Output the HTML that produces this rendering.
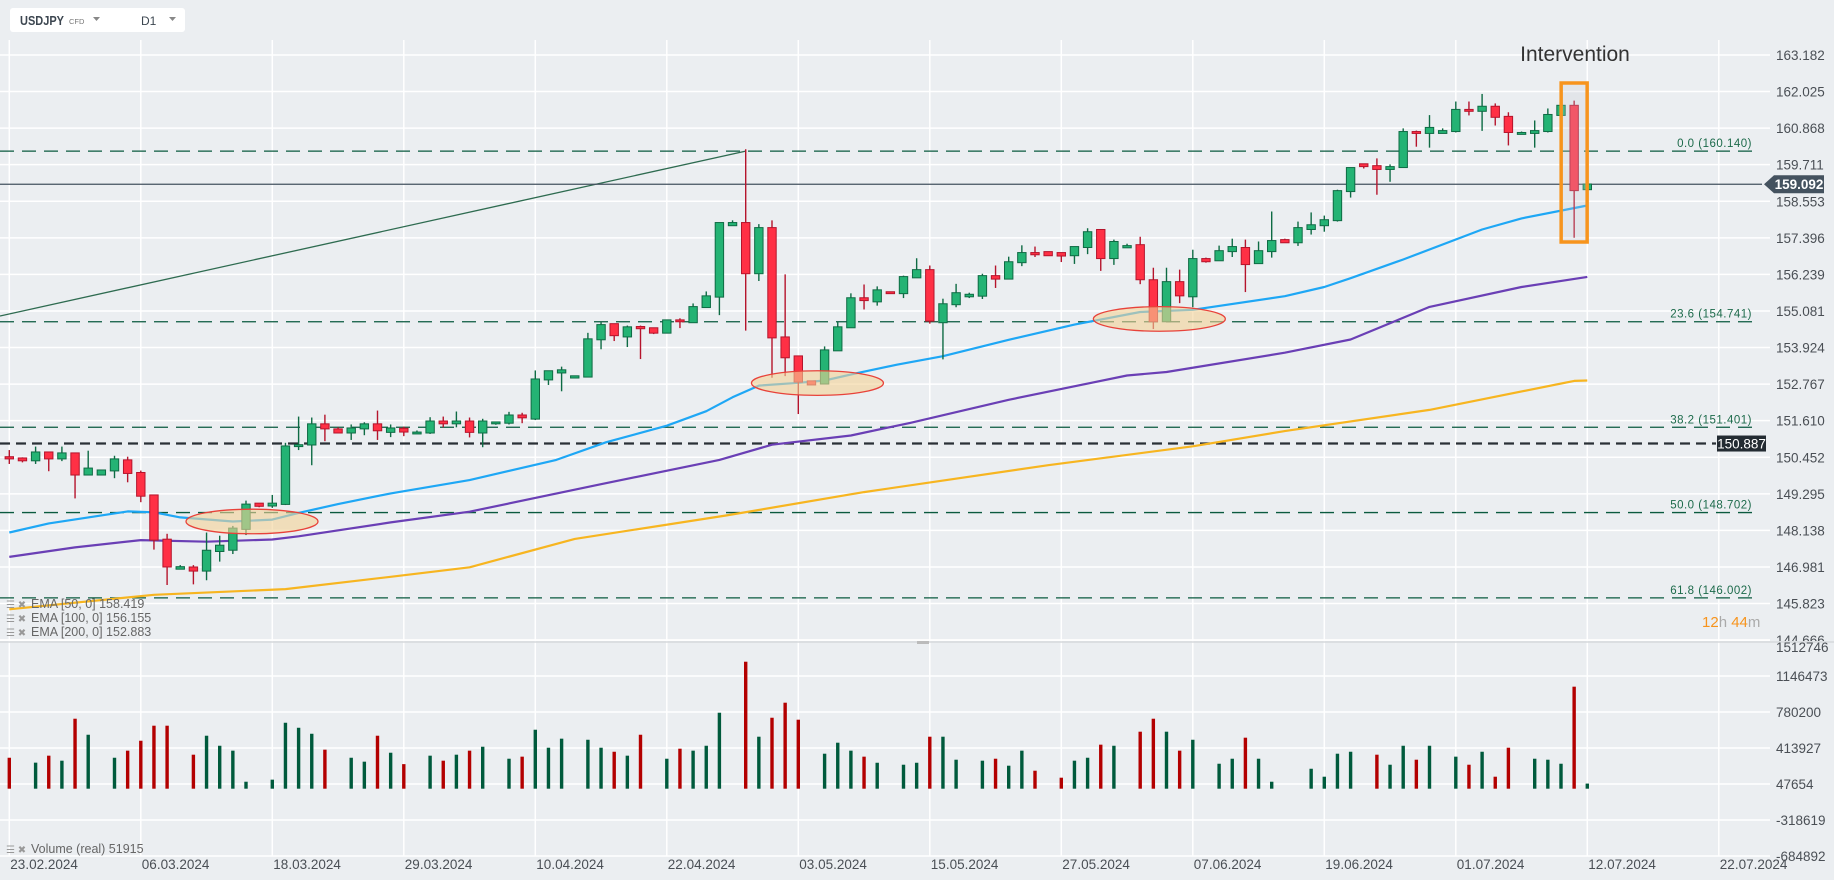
<!DOCTYPE html>
<html><head><meta charset="utf-8"><style>
html,body{margin:0;padding:0;background:#ebeef1;width:1834px;height:880px;overflow:hidden}
svg{display:block;font-family:"Liberation Sans",sans-serif}
</style></head><body>
<svg id="chart" width="1834" height="880" viewBox="0 0 1834 880" xmlns="http://www.w3.org/2000/svg">
<defs><clipPath id="pclip"><rect x="0" y="0" width="1834" height="641"/></clipPath></defs>
<rect x="0" y="0" width="1834" height="880" fill="#ebeef1"/>
<g id="grid"></g>
<g id="fibs"></g>
<g id="emas"></g>
<g id="ellipses"></g>
<g id="candles"></g>
<g id="vols"></g>
<g id="axes"></g>
<g>
<rect x="10" y="8" width="175" height="24" rx="3" fill="#ffffff"/>
<text x="20" y="25" font-size="13" font-weight="bold" fill="#3c4650" textLength="44" lengthAdjust="spacingAndGlyphs">USDJPY</text>
<text x="69" y="24" font-size="7.5" fill="#777">CFD</text>
<path d="M93 17 L100 17 L96.5 21 Z" fill="#888"/>
<text x="141" y="25" font-size="12" fill="#3c4650">D1</text>
<path d="M169 17 L176 17 L172.5 21 Z" fill="#888"/>
</g>
<text x="1575" y="61" font-size="21" fill="#333" text-anchor="middle">Intervention</text>
<text x="1702" y="627" font-size="15"><tspan fill="#f7941d">12</tspan><tspan fill="#aaa">h </tspan><tspan fill="#f7941d">44</tspan><tspan fill="#aaa">m</tspan></text>
<g font-size="12.5" fill="#666">
<text x="6" y="608" font-size="10" fill="#999">☰ ✖</text>
<text x="31" y="608">EMA  [50,  0]  158.419</text>
<text x="6" y="622" font-size="10" fill="#999">☰ ✖</text>
<text x="31" y="622">EMA  [100,  0]  156.155</text>
<text x="6" y="636" font-size="10" fill="#999">☰ ✖</text>
<text x="31" y="636">EMA  [200,  0]  152.883</text>
<text x="6" y="853" font-size="10" fill="#999">☰ ✖</text>
<text x="31" y="853">Volume  (real)  51915</text>
</g>
</svg>
<script>
const priceTicks=[163.182,162.025,160.868,159.711,158.553,157.396,156.239,155.081,153.924,152.767,151.610,150.452,149.295,148.138,146.981,145.823,144.666];
const volTicks=[1512746,1146473,780200,413927,47654,-318619,-684892];
const dateLabels=["23.02.2024","06.03.2024","18.03.2024","29.03.2024","10.04.2024","22.04.2024","03.05.2024","15.05.2024","27.05.2024","07.06.2024","19.06.2024","01.07.2024","12.07.2024","22.07.2024"];
const dateSlots=[0,10,20,30,40,50,60,70,80,90,100,110,120,130];
const opens=[150.47,150.43,150.34,150.62,150.40,150.59,149.89,149.89,150.02,150.37,149.97,149.26,147.86,146.91,146.98,146.85,147.47,147.51,148.17,149.00,148.91,148.96,150.79,150.84,151.51,151.35,151.22,151.35,151.51,151.24,151.37,151.19,151.22,151.60,151.51,
151.60,151.22,151.51,151.53,151.79,151.66,152.90,153.12,152.96,152.99,154.17,154.68,154.26,154.59,154.55,154.38,154.80,154.71,155.19,155.52,157.78,157.88,156.26,157.72,154.26,153.66,152.87,152.77,153.82,154.55,155.50,155.37,155.69,
155.63,156.13,156.39,154.71,155.28,155.53,155.55,156.20,156.09,156.61,156.93,156.96,156.93,156.83,157.09,157.66,156.74,157.08,157.18,156.07,154.74,156.01,155.53,156.74,156.67,156.96,157.09,156.58,156.96,157.34,157.24,157.66,157.78,157.94,
158.86,159.74,159.68,159.56,159.62,160.76,160.70,160.70,160.76,161.46,161.40,161.56,161.24,160.67,160.70,160.76,161.27,161.59,158.92];
const highs=[150.68,150.45,150.79,150.62,150.79,150.59,150.66,150.05,150.50,150.47,150.03,149.26,148.03,147.04,147.04,148.07,147.97,148.28,149.08,149.00,149.26,150.91,151.74,151.71,151.80,151.40,151.49,151.56,151.93,151.49,151.42,151.30,151.72,151.74,151.90,
151.71,151.67,151.57,151.89,151.86,153.20,153.19,153.32,153.03,154.39,154.73,154.68,154.62,154.62,154.55,154.80,154.85,155.32,155.70,157.88,157.95,160.20,157.83,157.95,156.24,153.66,152.87,153.96,154.73,155.64,155.92,155.86,155.69,
156.20,156.75,156.52,155.47,155.94,155.66,156.26,156.52,156.80,157.16,157.12,156.96,156.93,157.12,157.70,157.66,157.34,157.21,157.43,156.45,156.45,156.39,157.02,156.77,157.15,157.37,157.34,157.28,158.23,157.37,157.91,158.20,158.10,158.92,
159.62,159.74,159.91,159.72,160.86,160.79,161.28,160.86,161.71,161.71,161.95,161.65,161.37,160.76,161.11,161.49,161.59,161.74,159.10];
const lows=[150.24,150.29,150.24,150.01,150.33,149.15,149.89,149.89,149.79,149.66,149.03,147.53,146.41,146.91,146.43,146.56,147.15,147.39,147.99,148.87,148.85,148.94,150.68,150.20,150.96,151.22,151.00,151.15,151.00,151.09,151.12,151.19,151.19,151.40,151.40,
151.08,150.77,151.48,151.49,151.53,151.63,152.74,152.54,152.96,152.99,153.87,154.13,153.94,153.56,154.35,154.38,154.54,154.71,155.19,154.95,157.78,154.46,156.03,152.97,153.02,151.82,152.74,152.77,153.82,154.55,155.13,155.25,155.63,
155.49,156.13,154.68,153.55,155.20,155.49,155.46,155.81,156.09,156.50,156.79,156.83,156.63,156.57,156.88,156.35,156.54,157.08,155.93,154.51,154.74,155.33,155.20,156.61,156.67,156.79,155.68,156.58,156.77,157.24,157.14,157.50,157.59,157.91,
158.67,159.59,158.76,159.17,159.62,160.28,160.25,160.70,160.73,161.27,160.78,160.95,160.32,160.67,160.25,160.73,161.27,157.40,158.92];
const closes=[150.40,150.34,150.62,150.40,150.59,149.89,150.11,150.05,150.40,149.94,149.22,147.83,146.98,146.99,146.85,147.51,147.67,148.21,148.97,148.90,149.00,150.81,150.85,151.51,151.35,151.22,151.38,151.51,151.29,151.38,151.25,151.25,151.60,151.51,151.60,
151.24,151.60,151.57,151.79,151.70,152.93,153.19,153.22,153.03,154.20,154.65,154.30,154.58,154.52,154.38,154.80,154.74,155.22,155.56,157.88,157.88,156.26,157.72,154.23,153.60,152.83,152.74,153.85,154.58,155.50,155.41,155.75,155.63,
156.17,156.39,154.76,155.31,155.66,155.61,156.20,156.09,156.64,156.93,156.86,156.83,156.82,157.12,157.59,156.74,157.28,157.15,156.07,154.74,156.01,155.56,156.74,156.64,156.99,157.12,156.55,156.99,157.31,157.24,157.72,157.81,157.97,158.89,
159.62,159.65,159.56,159.65,160.76,160.70,160.89,160.79,161.46,161.40,161.56,161.21,160.73,160.73,160.79,161.30,161.59,158.89,159.10];
const volumes=[315000,0,265000,336000,285000,712000,549000,0,315000,387000,488000,641000,641000,0,346000,539000,437000,387000,71000,0,92000,671000,620000,559000,397000,0,315000,275000,539000,366000,250000,0,
336000,285000,346000,387000,427000,0,305000,326000,600000,417000,509000,0,498000,417000,376000,336000,549000,0,305000,407000,387000,437000,773000,0,1292000,529000,722000,875000,702000,0,356000,468000,387000,326000,264000,0,
244000,264000,529000,529000,295000,0,285000,305000,234000,387000,183000,0,112000,285000,315000,448000,437000,0,580000,712000,580000,387000,498000,0,254000,305000,519000,305000,71000,0,0,203000,122000,356000,376000,0,
346000,244000,437000,295000,437000,0,326000,244000,376000,122000,417000,0,305000,295000,254000,1038000,51915];
const ema50Slots=[0,3,9,11,13,17,20,22,25,29,35,41.6,45.4,50,53,55,57,60,62,64.4,67.5,71,76,81,86,90,97,100,102,106,112,115,120];
const ema50Vals=[148.07,148.36,148.74,148.71,148.55,148.42,148.48,148.69,148.97,149.31,149.73,150.37,150.93,151.45,151.91,152.35,152.72,152.81,152.88,153.11,153.38,153.65,154.17,154.65,155.05,155.12,155.55,155.84,156.12,156.71,157.66,158.01,158.42];
const ema100Slots=[0,5,10,15,20,22,29,35,45,54,58,64,68.5,76,85,88,97,102,108,115,120];
const ema100Vals=[147.30,147.60,147.83,147.78,147.85,147.95,148.39,148.73,149.60,150.37,150.85,151.14,151.54,152.27,153.04,153.15,153.76,154.18,155.21,155.84,156.16];
const ema200Slots=[0,11,21,29,35,43,54.5,65,79,90,97,108,119,120];
const ema200Vals=[145.64,146.10,146.28,146.67,146.97,147.87,148.61,149.35,150.20,150.80,151.28,151.95,152.87,152.88];
const fibLevels=[160.140,154.741,151.401,148.702,146.002];
const fibNames=["0.0","23.6","38.2","50.0","61.8"];
const currentPrice=159.092, markPrice=150.887;
const ellipseSlots=[18,61,87];
const ellipsePrices=[148.42,152.80,154.83];

const NS="http://www.w3.org/2000/svg";
const X0=9.3, DX=13.15, PLOT_R=1770;
function xS(i){return X0+i*DX;}
function yP(p){return 55+(163.182-p)*31.6;}
function yV(v){return 788.7-v/366273*36;}
function mk(tag,attrs,parent){const e=document.createElementNS(NS,tag);for(const k in attrs)e.setAttribute(k,attrs[k]);parent.appendChild(e);return e;}
const G=id=>document.getElementById(id);

const grid=G('grid');
priceTicks.forEach((t,i)=>{const l=mk('line',{x1:0,x2:PLOT_R,y1:yP(t),y2:yP(t),stroke:'#ffffff','stroke-width':1.5},grid);

});
volTicks.forEach(t=>{const l=mk('line',{x1:0,x2:PLOT_R,y1:yV(t),y2:yV(t),stroke:'#ffffff','stroke-width':1.5},grid);

});
dateSlots.forEach(s=>{const l=mk('line',{x1:xS(s),x2:xS(s),y1:40,y2:856,stroke:'#ffffff','stroke-width':1.5},grid);

});
const sep=mk('line',{x1:0,x2:1834,y1:642,y2:642,stroke:'#d6d9dc','stroke-width':1.5},grid);


const hnd=mk('rect',{x:917,y:641,width:12,height:3,fill:'#bbb'},grid);



const fibs=G('fibs');
const tl=mk('line',{x1:0,y1:316,x2:xS(56),y2:yP(160.14),stroke:'#2e6b50','stroke-width':1.3},fibs);


fibLevels.forEach((p,i)=>{const l=mk('line',{x1:0,x2:1752,y1:yP(p),y2:yP(p),stroke:'#0b5a3f','stroke-width':1.3,'stroke-dasharray':'14 8'},fibs);


const t=mk('text',{x:1752,y:yP(p)-4,'font-size':11.5,fill:'#1c6a4a','text-anchor':'end','letter-spacing':'0.5'},fibs);
t.textContent=fibNames[i]+' ('+p.toFixed(3)+')';

});
const ml=mk('line',{x1:0,x2:1716,y1:yP(markPrice),y2:yP(markPrice),stroke:'#2a3036','stroke-width':2.2,'stroke-dasharray':'10 6'},fibs);


const cl=mk('line',{x1:0,x2:1762,y1:yP(currentPrice),y2:yP(currentPrice),stroke:'#44525f','stroke-width':1.2},fibs);



function emaPath(sl,vals,color,name){const d=sl.map((s,i)=>(i?'L':'M')+xS(s).toFixed(1)+' '+yP(vals[i]).toFixed(1)).join(' ');
const p=mk('path',{d:d,fill:'none',stroke:color,'stroke-width':2.2,'stroke-linejoin':'round'},G('emas'));

}
emaPath(ema200Slots,ema200Vals,'#f7b520','ema200-line');
emaPath(ema100Slots,ema100Vals,'#6a3fb5','ema100-line');
emaPath(ema50Slots,ema50Vals,'#1ea7f5','ema50-line');

const cg=G('candles');
opens.forEach((o,i)=>{const c=closes[i],up=c>=o,x=xS(i);
const col=up?'#24b374':'#ff3045',bd=up?'#0e6b44':'#b5142c';
const w=mk('line',{x1:x,x2:x,y1:yP(highs[i]),y2:yP(lows[i]),stroke:bd,'stroke-width':1.4},cg);


const t=yP(Math.max(o,c)),b=yP(Math.min(o,c));
const r=mk('rect',{x:x-4.2,y:t,width:8.4,height:Math.max(b-t,1.5),fill:col,stroke:bd,'stroke-width':1},cg);

});

const eg=G('ellipses');
ellipseSlots.forEach((s,i)=>{const e=mk('ellipse',{cx:xS(s)+6,cy:yP(ellipsePrices[i]),rx:66,ry:12.3,fill:'rgba(243,210,150,0.6)',stroke:'#e8423a','stroke-width':1.3},eg);

});
cg.parentNode.appendChild(eg);

const ib=mk('rect',{x:xS(119)-13,y:83,width:26,height:159,fill:'rgba(200,205,210,0.25)',stroke:'#f7941d','stroke-width':3.5},G('chart'));



const vg=G('vols');
volumes.forEach((v,i)=>{if(!v)return;const up=closes[i]>=opens[i];
const r=mk('rect',{x:xS(i)-1.7,y:yV(v),width:3.4,height:yV(0)-yV(v),fill:up?'#005a3c':'#b30000'},vg);

});

const ax=G('axes');
priceTicks.forEach(t=>{const e=mk('text',{x:1776,y:yP(t)+5,'font-size':13.5,fill:'#4a4f55','clip-path':'url(#pclip)'},ax);e.textContent=t.toFixed(3);

});
volTicks.forEach((t,i)=>{const e=mk('text',{x:1776,y:yV(t)+(i===0?12:5),'font-size':13.5,fill:'#4a4f55'},ax);e.textContent=String(t);

});
dateLabels.forEach((d,i)=>{const e=mk('text',{x:xS(dateSlots[i])+1,y:869,'font-size':13.5,fill:'#4a4f55'},ax);e.textContent=d;

});
function tag(p,bg,arrow,x,w,name){const y=yP(p);
if(arrow){const a=mk('path',{d:`M${x-10} ${y} L${x} ${y-9} L${x+w} ${y-9} L${x+w} ${y+9} L${x} ${y+9} Z`,fill:bg},ax);

}
else{const a=mk('rect',{x:x,y:y-8,width:w,height:16,fill:bg},ax);

}
const t=mk('text',{x:x+w/2,y:y+5,'font-size':13.5,'font-weight':arrow?'bold':'normal',fill:'#fff','text-anchor':'middle'},ax);t.textContent=p.toFixed(3);

}
tag(currentPrice,'#44525f',true,1774,50,'current-price-tag');
tag(markPrice,'#232b32',false,1717,49,'support-price-tag');
</script>
</body></html>
